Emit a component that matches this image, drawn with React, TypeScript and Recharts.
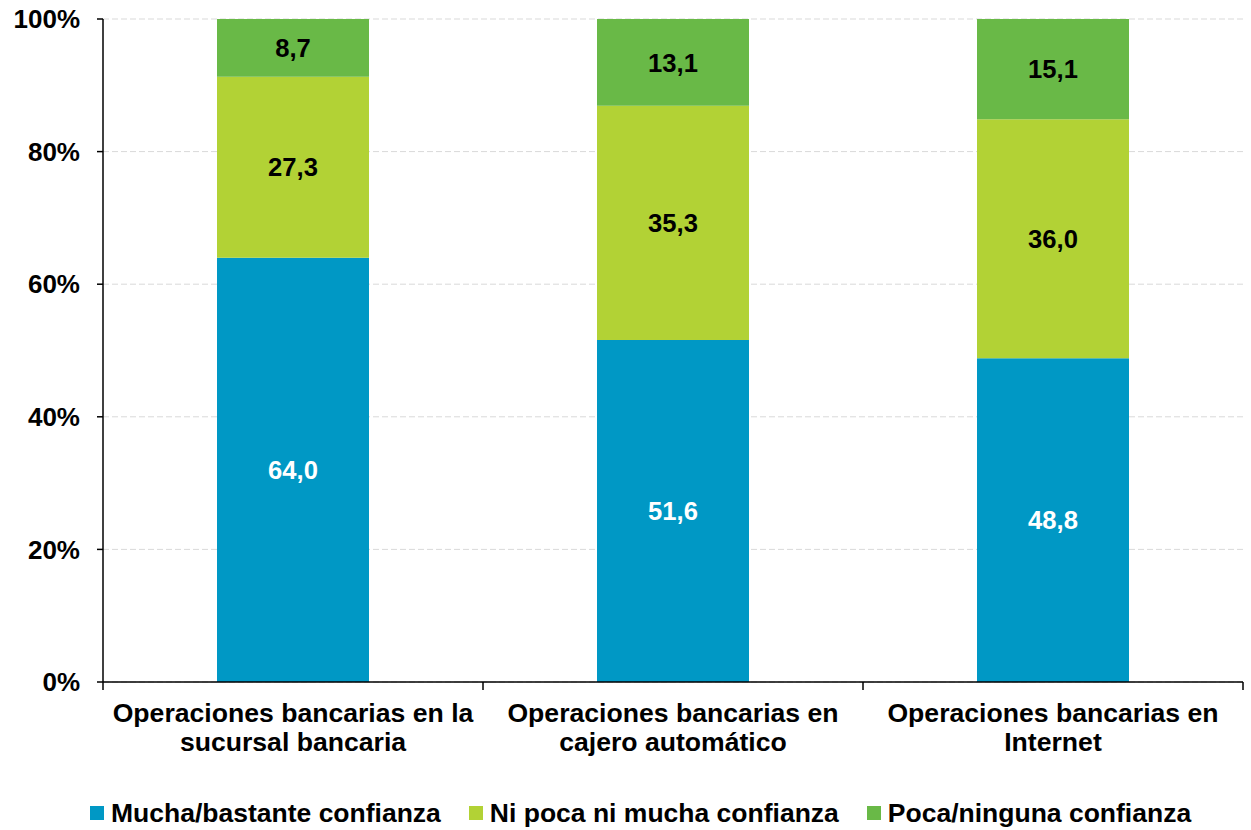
import React from 'react';
import { BarChart, Bar, XAxis, YAxis, CartesianGrid, Legend, LabelList } from 'recharts';

const categories = [
  'Operaciones bancarias en la\nsucursal bancaria',
  'Operaciones bancarias en\ncajero automático',
  'Operaciones bancarias en\nInternet',
];
const mucha = [64.0, 51.6, 48.8];
const ni = [27.3, 35.3, 36.0];
const poca = [8.7, 13.1, 15.1];
const seriesNames = ['Mucha/bastante confianza', 'Ni poca ni mucha confianza', 'Poca/ninguna confianza'];
const seriesColors = ['#0098C5', '#B2D235', '#69B947'];
const yTicks = [0, 0.2, 0.4, 0.6, 0.8, 1];

const data = categories.map((c, i) => ({ name: c, mucha: mucha[i], ni: ni[i], poca: poca[i] }));

const FONT = '"Liberation Sans", Arial, sans-serif';

const fmt = (v: any) => Number(v).toFixed(1).replace('.', ',');

function XTick(props: any) {
  const { x, y, payload, index, visibleTicksCount } = props;
  const half = payload && payload.offset ? payload.offset : 190;
  const lines = String(payload.value).split('\n');
  return (
    <g>
      <line x1={x - half} y1={y} x2={x - half} y2={y + 8} stroke="#000" strokeWidth={1.5} />
      {index === visibleTicksCount - 1 && (
        <line x1={x + half} y1={y} x2={x + half} y2={y + 8} stroke="#000" strokeWidth={1.5} />
      )}
      <text x={x} y={y + 40} textAnchor="middle" fontFamily={FONT} fontWeight="bold" fontSize={26.6} fill="#000">
        {lines.map((l, i) => (
          <tspan key={i} x={x} dy={i === 0 ? 0 : 29}>{l}</tspan>
        ))}
      </text>
    </g>
  );
}

function LegendContent(props: any) {
  const payload = props.payload || [];
  return (
    <div style={{ display: 'flex', alignItems: 'center', height: 34, paddingLeft: 90, fontFamily: FONT, fontWeight: 'bold', fontSize: 26.5, color: '#000' }}>
      {payload.map((p: any, i: number) => (
        <div key={i} style={{ display: 'flex', alignItems: 'center', marginRight: 28 }}>
          <div style={{ width: 14, height: 14, background: p.color, marginRight: 7 }} />
          <span style={{ whiteSpace: 'nowrap' }}>{p.value}</span>
        </div>
      ))}
    </div>
  );
}

export default function App() {
  return (
    <div style={{ position: 'absolute', left: 0, top: 0, background: '#fff' }}>
      <BarChart
        width={1251}
        height={830}
        data={data}
        stackOffset="expand"
        barCategoryGap="30%"
        margin={{ top: 19, right: 8, left: 0, bottom: 0 }}
      >
        <CartesianGrid vertical={false} stroke="#d9d9d9" strokeDasharray="6 3" />
        <XAxis
          dataKey="name"
          interval={0}
          height={114}
          tickLine={false}
          tickSize={0}
          tickMargin={0}
          axisLine={{ stroke: '#000', strokeWidth: 1.5 }}
          tick={<XTick />}
        />
        <YAxis
          width={103}
          domain={[0, 1]}
          ticks={yTicks}
          tickFormatter={(v: number) => Math.round(v * 100) + '%'}
          tickSize={6}
          tickMargin={17}
          axisLine={{ stroke: '#000', strokeWidth: 1.5 }}
          tickLine={{ stroke: '#000', strokeWidth: 1.5 }}
          tick={{ fill: '#000', fontFamily: FONT, fontWeight: 'bold', fontSize: 26 }}
        />
        <Legend verticalAlign="bottom" content={<LegendContent />} />
        <Bar dataKey="mucha" name={seriesNames[0]} stackId="a" fill={seriesColors[0]} isAnimationActive={false}>
          <LabelList dataKey="mucha" position="center" formatter={fmt} fill="#fff" fontFamily={FONT} fontWeight="bold" fontSize={25.6} />
        </Bar>
        <Bar dataKey="ni" name={seriesNames[1]} stackId="a" fill={seriesColors[1]} isAnimationActive={false}>
          <LabelList dataKey="ni" position="center" formatter={fmt} fill="#000" fontFamily={FONT} fontWeight="bold" fontSize={25.6} />
        </Bar>
        <Bar dataKey="poca" name={seriesNames[2]} stackId="a" fill={seriesColors[2]} isAnimationActive={false}>
          <LabelList dataKey="poca" position="center" formatter={fmt} fill="#000" fontFamily={FONT} fontWeight="bold" fontSize={25.6} />
        </Bar>
      </BarChart>
    </div>
  );
}
